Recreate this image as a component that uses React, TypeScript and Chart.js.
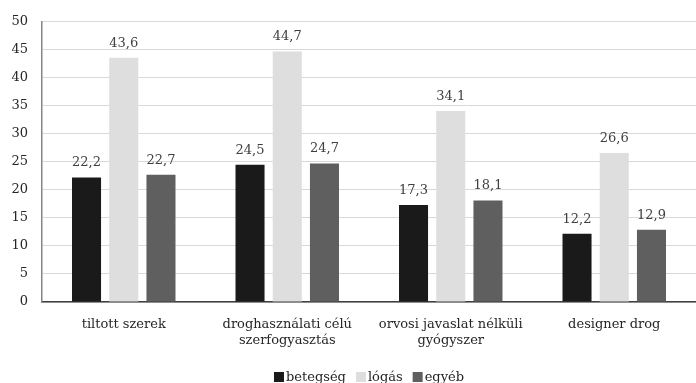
import React, { useEffect, useRef } from "react";
import { Chart, registerables } from "chart.js";

Chart.register(...registerables);

const categories: (string | string[])[] = [
  "tiltott szerek",
  ["droghasználati célú", "szerfogyasztás"],
  ["orvosi javaslat nélküli", "gyógyszer"],
  "designer drog",
];
const seriesNames = ["betegség", "lógás", "egyéb"];
const seriesColors = ["#1a1a1a", "#dedede", "#5f5f5f"];
const betegseg = [22.2, 24.5, 17.3, 12.2];
const logas = [43.6, 44.7, 34.1, 26.6];
const egyeb = [22.7, 24.7, 18.1, 12.9];
const yTicks = [0, 5, 10, 15, 20, 25, 30, 35, 40, 45, 50];

const FONT = "'DejaVu Serif', serif";

const valueLabels = {
  id: "valueLabels",
  afterDatasetsDraw(chart: any) {
    const ctx = chart.ctx;
    ctx.save();
    ctx.font = `13px ${FONT}`;
    ctx.fillStyle = "#404040";
    ctx.textAlign = "center";
    ctx.textBaseline = "bottom";
    chart.data.datasets.forEach((ds: any, i: number) => {
      const meta = chart.getDatasetMeta(i);
      meta.data.forEach((el: any, j: number) => {
        const v = ds.data[j];
        ctx.fillText(v.toFixed(1).replace(".", ","), el.x, el.y - 8);
      });
    });
    ctx.restore();
  },
};

const customLegend = {
  id: "customLegend",
  afterDraw(chart: any) {
    const ctx = chart.ctx;
    ctx.save();
    ctx.font = `13px ${FONT}`;
    ctx.textBaseline = "middle";
    ctx.textAlign = "left";
    const box = 10;
    const gapBoxText = 2;
    const gapItems = 10;
    const widths = seriesNames.map((n) => box + gapBoxText + ctx.measureText(n).width);
    const total = widths.reduce((a, b) => a + b, 0) + gapItems * (seriesNames.length - 1);
    const ca = chart.chartArea;
    let x = (ca.left + ca.right) / 2 - total / 2;
    const y = 377;
    seriesNames.forEach((n, i) => {
      ctx.fillStyle = seriesColors[i];
      ctx.fillRect(x, y - box / 2, box, box);
      ctx.fillStyle = "#262626";
      ctx.fillText(n, x + box + gapBoxText, y + 1);
      x += widths[i] + gapItems;
    });
    ctx.restore();
  },
};

export default function App() {
  const ref = useRef<HTMLCanvasElement>(null);
  useEffect(() => {
    document.body.style.margin = "0";
    const chart = new Chart(ref.current!, {
      type: "bar",
      data: {
        labels: categories,
        datasets: [betegseg, logas, egyeb].map((d, i) => ({
          label: seriesNames[i],
          data: d,
          backgroundColor: seriesColors[i],
          categoryPercentage: 0.683,
          barPercentage: 0.78,
        })),
      },
      options: {
        responsive: false,
        animation: false,
        layout: { padding: { top: 19, bottom: 26, left: 0, right: 0 } },
        plugins: {
          legend: { display: false },
          tooltip: { enabled: false },
        },
        scales: {
          x: {
            grid: { display: false },
            border: { color: "#404040", width: 1.5 },
            ticks: {
              color: "#262626",
              font: { family: FONT, size: 13 },
              padding: 7,
              maxRotation: 0,
              autoSkip: false,
            },
            afterFit(scale: any) {
              scale.height = 55;
            },
          },
          y: {
            min: 0,
            max: 50,
            afterBuildTicks(scale: any) {
              scale.ticks = yTicks.map((v) => ({ value: v }));
            },
            grid: { color: "#d9d9d9", lineWidth: 1, drawTicks: false },
            border: { color: "#868686", width: 1.5 },
            ticks: {
              color: "#262626",
              font: { family: FONT, size: 13 },
              padding: 14,
            },
            afterFit(scale: any) {
              scale.width = 42;
            },
          },
        },
      },
      plugins: [valueLabels, customLegend],
    });
    return () => chart.destroy();
  }, []);
  return <canvas ref={ref} width={696} height={383} style={{ display: "block" }} />;
}
